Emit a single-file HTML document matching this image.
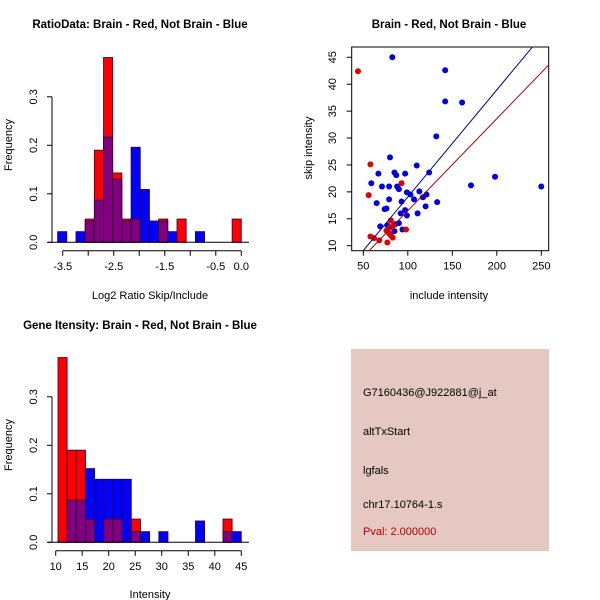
<!DOCTYPE html>
<html><head><meta charset="utf-8"><style>
body{margin:0;background:#fff}
svg{display:block;font-family:"Liberation Sans",sans-serif}
</style></head><body>
<svg id="c" width="600" height="600" viewBox="0 0 600 600">
<rect width="600" height="600" fill="#fff"/>
<text x="140" y="28" font-size="11.5" font-weight="bold" text-anchor="middle">RatioData: Brain - Red, Not Brain - Blue</text>
<text x="449" y="28" font-size="11.5" font-weight="bold" text-anchor="middle">Brain - Red, Not Brain - Blue</text>
<text x="140" y="329" font-size="11.5" font-weight="bold" text-anchor="middle">Gene Itensity: Brain - Red, Not Brain - Blue</text>
<text x="150" y="299" font-size="11" text-anchor="middle">Log2 Ratio Skip/Include</text>
<text x="449" y="299" font-size="11" text-anchor="middle">include intensity</text>
<text x="150" y="598" font-size="11" text-anchor="middle">Intensity</text>
<text transform="translate(12,145) rotate(-90)" font-size="11" text-anchor="middle">Frequency</text>
<text transform="translate(12,445) rotate(-90)" font-size="11" text-anchor="middle">Frequency</text>
<text transform="translate(312,148) rotate(-90)" font-size="11" text-anchor="middle">skip intensity</text>
<g id="h1"></g>
<g id="h2"></g>
<g id="sc"></g>
<g>
<rect x="351" y="349" width="198" height="202" fill="#e5c8c2"/>
<text x="363" y="396" font-size="11">G7160436@J922881@j_at</text>
<text x="363" y="435" font-size="11">altTxStart</text>
<text x="363" y="474" font-size="11">lgfals</text>
<text x="363" y="508" font-size="11">chr17.10764-1.s</text>
<text x="363" y="535" font-size="11" fill="#b00000">Pval: 2.000000</text>
</g>
</svg>
<script>
const ratioRed=[0,0,0,0.048,0.19,0.381,0.143,0.048,0.048,0,0,0.048,0,0.048,0,0,0,0,0,0.048];
const ratioBlue=[0.022,0,0.022,0.044,0.087,0.217,0.130,0.044,0.196,0.109,0.044,0.044,0.022,0,0,0.022,0,0,0,0];
const ratioStart=-3.6, ratioEnd=0;
const ratioTicks=[-3.5,-3,-2.5,-2,-1.5,-1,-0.5,0];
const ratioTickLabels=["-3.5","","-2.5","","-1.5","","-0.5","0.0"];
const geneRed=[0.381,0.19,0.19,0.048,0,0.048,0.048,0,0.048,0,0,0,0,0,0,0,0,0,0.048,0];
const geneBlue=[0,0.087,0.087,0.152,0.130,0.130,0.130,0.130,0.022,0.022,0,0.022,0,0,0,0.044,0,0,0.022,0.022];
const geneStart=10.43, geneEnd=45;
const geneTicks=[10,15,20,25,30,35,40,45];
const freqTicks=[0,0.1,0.2,0.3];
const freqTickLabels=["0.0","0.1","0.2","0.3"];
const blueX=[82.6,142,142,161,132,80,110,67,85,87,97,124,198,59,71,79,88,90,171,250,99,103,113,121,117,79,107,93,133,65,120,74,76,97,92,111,99,69,77,90,86,85,94];
const blueY=[45,42.6,36.8,36.6,30.3,26.4,24.9,23.4,23.6,23.1,23.4,23.6,22.8,21.6,21,21,21,20.5,21.2,21,19.9,19.5,20.1,19.5,19,18.6,18.6,18.2,18.1,17.9,17.3,16.8,16.9,16.6,16,16,15.6,13.6,13.8,14.2,14,12.7,13];
const redX=[44,58,56,93,98,81,84,58,62,68,77,76,79,81,83,80];
const redY=[42.4,25.1,19.4,21.6,13,14.7,13.8,11.7,11.4,11,10.6,12.8,12.3,11.9,11.5,13.4];
const blueLine=[0.199,-0.85];
const redLine=[0.171,-0.6];
const scXTicks=[50,100,150,200,250];
const scYTicks=[10,15,20,25,30,35,40,45];

const NS="http://www.w3.org/2000/svg";
function mk(p,t,a){const e=document.createElementNS(NS,t);for(const k in a)e.setAttribute(k,a[k]);p.appendChild(e);return e;}

function hist(gid,red,blue,start,end,x0px,x1px,x0v,x1v,y0px,ticks,tickLabels){
  const g=document.getElementById(gid);
  const sx=v=>x0px+(v-x0v)*(x1px-x0px)/(x1v-x0v);
  const sy=v=>y0px-v*485;
  const w=(end-start)/red.length;
  for(let i=0;i<red.length;i++){
    const a=sx(start+i*w), b=sx(start+(i+1)*w);
    const r=red[i], bl=blue[i], mx=Math.max(r,bl), mn=Math.min(r,bl);
    if(mx>0){
      const e=mk(g,'rect',{x:a,y:sy(mx),width:b-a,height:sy(0)-sy(mx),fill:r>=bl?'#ff0000':'#0000ff',stroke:'#300030','stroke-width':0.8});
      
      
    }
    if(mn>0){
      const e=mk(g,'rect',{x:a,y:sy(mn),width:b-a,height:sy(0)-sy(mn),fill:'#800080',stroke:'#300030','stroke-width':0.8});
      
      
    }
  }
  mk(g,'line',{x1:48,x2:249,y1:y0px,y2:y0px,stroke:'#000'});
  const ya=y0px+8.5;
  mk(g,'line',{x1:sx(ticks[0]),x2:sx(ticks[ticks.length-1]),y1:ya,y2:ya,stroke:'#000'});
  ticks.forEach((t,i)=>{
    mk(g,'line',{x1:sx(t),x2:sx(t),y1:ya,y2:ya+5,stroke:'#000'});
    const tx=mk(g,'text',{x:sx(t),y:ya+19,'font-size':11,'text-anchor':'middle'});
    tx.textContent=tickLabels?tickLabels[i]:String(t);
    
    
  });
  mk(g,'line',{x1:52,x2:52,y1:sy(0),y2:sy(0.3),stroke:'#000'});
  freqTicks.forEach((t,i)=>{
    mk(g,'line',{x1:47,x2:52,y1:sy(t),y2:sy(t),stroke:'#000'});
    const tx=mk(g,'text',{transform:`translate(37,${sy(t)}) rotate(-90)`,'font-size':11,'text-anchor':'middle'});
    tx.textContent=freqTickLabels[i];
    
    
  });
}
hist('h1',ratioRed,ratioBlue,ratioStart,ratioEnd,62.7,241.3,-3.5,0,242.3,ratioTicks,ratioTickLabels);
hist('h2',geneRed,geneBlue,geneStart,geneEnd,55.7,241.3,10,45,542.3,geneTicks,null);

(function(){
  const g=document.getElementById('sc');
  const sx=v=>363.3+(v-50)*0.89;
  const sy=v=>245.7-(v-10)*5.383;
  const L=351.7,R=548.7,T=47,B=250.7;
  const cp=mk(g,'clipPath',{id:'scclip'});mk(cp,'rect',{x:L,y:T,width:R-L,height:B-T});
  mk(g,'rect',{x:L,y:T,width:R-L,height:B-T,fill:'none',stroke:'#000'});
  scXTicks.forEach(t=>{
    mk(g,'line',{x1:sx(t),x2:sx(t),y1:B,y2:B+5,stroke:'#000'});
    const tx=mk(g,'text',{x:sx(t),y:B+19,'font-size':11,'text-anchor':'middle'});tx.textContent=t;
    
    
  });
  scYTicks.forEach(t=>{
    mk(g,'line',{x1:L-5,x2:L,y1:sy(t),y2:sy(t),stroke:'#000'});
    const tx=mk(g,'text',{transform:`translate(336,${sy(t)}) rotate(-90)`,'font-size':11,'text-anchor':'middle'});tx.textContent=t;
    
    
  });
  blueX.forEach((x,i)=>{
    const c=mk(g,'circle',{cx:sx(x),cy:sy(blueY[i]),r:3,fill:'#0000e0'});
    
    
  });
  redX.forEach((x,i)=>{
    const c=mk(g,'circle',{cx:sx(x),cy:sy(redY[i]),r:3,fill:'#e00000'});
    
    
  });
  [[blueLine,'#00008b','blue-fit-line'],[redLine,'#a00000','red-fit-line']].forEach(([ln,col,nm])=>{
    const x1=30,x2=270;
    const l=mk(g,'line',{x1:sx(x1),y1:sy(ln[0]*x1+ln[1]),x2:sx(x2),y2:sy(ln[0]*x2+ln[1]),stroke:col,'clip-path':'url(#scclip)'});
    
    
  });
})();
</script>
</body></html>
